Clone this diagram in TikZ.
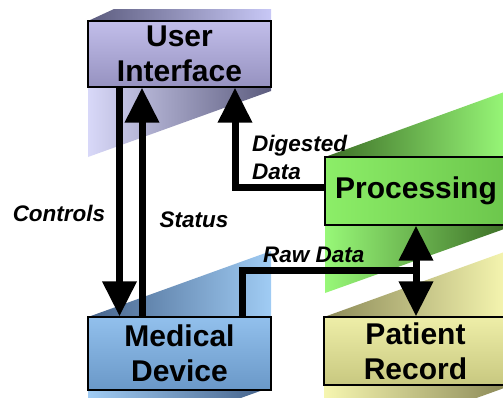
\documentclass[tikz,border=0pt]{standalone}
\usepackage{fontspec}
\setmainfont{Liberation Sans}
\usetikzlibrary{arrows.meta}

% Colour families for the four blocks
\definecolor{uiDark}{HTML}{5C5C7E}
\definecolor{uiLight}{HTML}{C8C8F6}
\definecolor{uiBoxTop}{HTML}{C2BEEA}
\definecolor{uiBoxBot}{HTML}{9692C0}
\definecolor{prDark}{HTML}{3C6E26}
\definecolor{prLight}{HTML}{98F878}
\definecolor{prBoxA}{HTML}{8CEE68}
\definecolor{prBoxB}{HTML}{6CC64C}
\definecolor{mdDark}{HTML}{46648C}
\definecolor{mdLight}{HTML}{A0CCF4}
\definecolor{mdBoxTop}{HTML}{92C0EC}
\definecolor{mdBoxBot}{HTML}{6A98C8}
\definecolor{rcDark}{HTML}{8C8A58}
\definecolor{rcLight}{HTML}{F6F6B0}
\definecolor{rcBoxTop}{HTML}{EEEEA8}
\definecolor{rcBoxBot}{HTML}{C8C880}

\tikzset{
  block/.style={draw=black, line width=1.4pt, inner sep=0pt, align=center,
    font=\fontsize{30}{35}\selectfont\bfseries},
  lbl/.style={inner sep=0pt, font=\fontsize{22.5}{28}\selectfont\bfseries\itshape},
  flow/.style={line width=7pt, draw=black},
  arrowflow/.style={flow, -{Triangle[width=33pt,length=35pt]}},
  bothflow/.style={flow, {Triangle[width=33pt,length=35pt]}-{Triangle[width=33pt,length=35pt]}}
}

\begin{document}
\begin{tikzpicture}[x=1pt,y=-1pt]
\useasboundingbox (0,0) rectangle (503,397);
\clip (0,0) rectangle (503,397);

% Slanted ribbons behind the blocks
\shade[left color=uiDark, right color=uiLight]
  (88,21) -- (114,9) -- (271,9) -- (271,21) -- cycle;
\shade[left color=uiLight!70!white, right color=uiDark]
  (88,87) -- (271,87) -- (271,91) -- (88,157) -- cycle;

\shade[left color=prDark, right color=prLight]
  (325,157) -- (507,91) -- (507,157) -- cycle;
\shade[left color=prLight, right color=prDark]
  (325,225) -- (507,225) -- (507,228) -- (325,293) -- cycle;

\shade[left color=mdDark, right color=mdLight]
  (88,317) -- (271,251) -- (271,317) -- cycle;
\shade[left color=mdLight, right color=mdDark]
  (88,390) -- (263,390) -- (88,453) -- cycle;

\shade[left color=rcDark, right color=rcLight]
  (324,317) -- (507,251) -- (507,317) -- cycle;
\shade[left color=rcLight, right color=rcDark]
  (324,385) -- (507,385) -- (507,387) -- (324,453) -- cycle;

% Blocks
\node[block, minimum width=183pt, minimum height=66pt,
      top color=uiBoxTop, bottom color=uiBoxBot] (ui) at (179.5,54) {User\\Interface};
\node[block, minimum width=182pt, minimum height=68pt,
      left color=prBoxA, right color=prBoxB] (proc) at (416,191) {Processing};
\node[block, minimum width=183pt, minimum height=73pt,
      top color=mdBoxTop, bottom color=mdBoxBot] (md) at (179.5,353.5) {Medical\\Device};
\node[block, minimum width=183pt, minimum height=68pt,
      top color=rcBoxTop, bottom color=rcBoxBot] (rec) at (415.5,351) {Patient\\Record};

% Guide coordinates for the connector tracks
\coordinate (ctlx) at (119.5,0);
\coordinate (stsx) at (142,0);
\coordinate (dig) at (235,187);
\coordinate (raw) at (242,270);
\coordinate (bus) at (416,270);

% Connectors
\draw[arrowflow] (ui.south -| ctlx) -- (md.north -| ctlx);
\draw[arrowflow] (md.north -| stsx) -- (ui.south -| stsx);
\draw[arrowflow] (proc.west |- dig) -| (ui.south -| dig);
\draw[flow] (md.north -| raw) |- (bus);
\draw[bothflow] (proc.south -| bus) -- (rec.north -| bus);

% Connector labels
\node[lbl] (lctl) at (59,213) {Controls};
\node[lbl] (lsts) at (194,220) {Status};
\node[lbl, align=left, anchor=west] (ldig) at (252,157) {Digested\\Data};
\node[lbl, anchor=west] (lraw) at (263,255) {Raw Data};
\end{tikzpicture}
\end{document}
